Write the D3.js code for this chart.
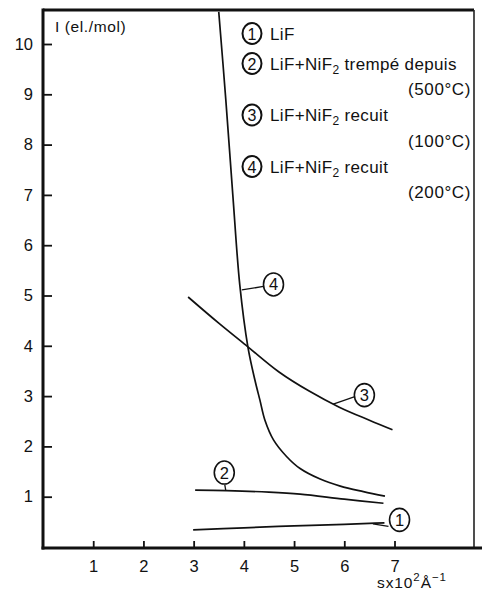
<!DOCTYPE html>
<html>
<head>
<meta charset="utf-8">
<script src="https://cdn.jsdelivr.net/npm/d3@7"></script>
<style>
  body { margin: 0; background: #fff; }
  svg { display: block; }
  text { font-family: "Liberation Sans", Arial, sans-serif; fill: #111; }
</style>
</head>
<body>
<svg id="chart" width="482" height="591"></svg>
<script>
// values: s (x10^2 A^-1) and I (el./mol)
const curve1 = [[2.99, 0.34], [4.0, 0.38], [5.0, 0.42], [6.0, 0.45], [6.5, 0.47], [6.8, 0.48]];
const curve2 = [[3.03, 1.13], [3.66, 1.12], [4.5, 1.09], [5.12, 1.05], [6.0, 0.95], [6.78, 0.87]];
const curve3 = [[2.89, 4.97], [3.5, 4.45], [4.08, 3.98], [4.7, 3.48], [5.3, 3.1], [5.9, 2.78], [6.5, 2.52], [6.96, 2.33]];
const curve4 = [[3.50, 10.64], [3.64, 8.9], [3.78, 7.0], [3.92, 5.2], [4.08, 3.98], [4.22, 3.32], [4.32, 2.92],
                [4.42, 2.52], [4.59, 2.13], [4.85, 1.80], [5.12, 1.56], [5.52, 1.35], [5.92, 1.21],
                [6.38, 1.10], [6.81, 1.01]];
const xTicks = [1, 2, 3, 4, 5, 6, 7];
const yTicks = [1, 2, 3, 4, 5, 6, 7, 8, 9, 10];
const legendNames = ["LiF", "LiF+NiF", "LiF+NiF", "LiF+NiF"];
const legendSuffix = ["", " trempé depuis", " recuit", " recuit"];
const legendTemps = ["", "(500°C)", "(100°C)", "(200°C)"];

const svg = d3.select("#chart");
const x = d3.scaleLinear().domain([0, 7]).range([43, 394.5]);
const y = d3.scaleLinear().domain([0, 10]).range([547, 44]);

// frame
svg.append("line").attr("x1", 43).attr("y1", 10).attr("x2", 474).attr("y2", 10)
  .style("stroke", "#111").style("stroke-width", "3px");
svg.append("line").attr("x1", 474).attr("y1", 10).attr("x2", 474).attr("y2", 548)
  .style("stroke", "#222").style("stroke-width", "1.6px");
svg.append("line").attr("x1", 43).attr("y1", 8.5).attr("x2", 43).attr("y2", 549.5)
  .style("stroke", "#111").style("stroke-width", "3px");
svg.append("line").attr("x1", 41.5).attr("y1", 548).attr("x2", 482).attr("y2", 548)
  .style("stroke", "#111").style("stroke-width", "3px");

// axes
const yAxis = svg.append("g").attr("transform", "translate(43,0)")
  .call(d3.axisLeft(y).tickValues(yTicks).tickFormat(d3.format("d")).tickSize(-9).tickPadding(10));
const xAxis = svg.append("g").attr("transform", "translate(0,548)")
  .call(d3.axisBottom(x).tickValues(xTicks).tickFormat(d3.format("d")).tickSize(-7).tickPadding(12));
[yAxis, xAxis].forEach(function (g) {
  g.select(".domain").remove();
  g.selectAll(".tick line").style("stroke", "#111").style("stroke-width", "1.8px");
  g.selectAll(".tick text").style("font-family", "Liberation Sans, Arial, sans-serif")
    .style("font-size", "16.5px").style("fill", "#111");
});

// axis titles
svg.append("text").attr("x", 55).attr("y", 32).style("font-size", "15.5px")
  .style("letter-spacing", "0.6px").text("I (el./mol)");
const xt = svg.append("text").attr("x", 377).attr("y", 587.5).style("font-size", "15.5px")
  .style("letter-spacing", "0.9px");
xt.append("tspan").text("sx10");
xt.append("tspan").attr("dy", -7).style("font-size", "11.5px").text("2");
xt.append("tspan").attr("dy", 7).text("Å");
xt.append("tspan").attr("dy", -7).style("font-size", "11.5px").text("−1");

// curves
const line = d3.line().x(function (d) { return x(d[0]); }).y(function (d) { return y(d[1]); })
  .curve(d3.curveCatmullRom.alpha(0.5));
[curve1, curve2, curve3, curve4].forEach(function (c) {
  svg.append("path").attr("d", line(c)).style("fill", "none")
    .style("stroke", "#111").style("stroke-width", "1.7px");
});

// curve labels: [label, circle centre, leader start, leader end]
const tags = [
  ["1", [7.10, 0.54], [6.57, 0.46], [6.88, 0.41]],
  ["2", [3.61, 1.48], [3.64, 1.12], [3.62, 1.24]],
  ["3", [6.40, 3.02], [5.78, 2.84], [6.21, 2.99]],
  ["4", [4.59, 5.22], [3.96, 5.11], [4.39, 5.18]]
];
tags.forEach(function (t) {
  svg.append("line").attr("x1", x(t[2][0])).attr("y1", y(t[2][1]))
    .attr("x2", x(t[3][0])).attr("y2", y(t[3][1]))
    .style("stroke", "#111").style("stroke-width", "1.3px");
  svg.append("ellipse").attr("cx", x(t[1][0])).attr("cy", y(t[1][1])).attr("rx", 10).attr("ry", 11.5)
    .style("fill", "#fff").style("stroke", "#111").style("stroke-width", "1.6px");
  svg.append("text").attr("x", x(t[1][0])).attr("y", y(t[1][1]) + 6)
    .attr("text-anchor", "middle").style("font-size", "16.5px").text(t[0]);
});

// legend
const legendY = [33.5, 63.5, 115, 166.5];
legendNames.forEach(function (name, i) {
  const cy = legendY[i];
  svg.append("ellipse").attr("cx", 252).attr("cy", cy).attr("rx", 9.5).attr("ry", 10.5)
    .style("fill", "none").style("stroke", "#111").style("stroke-width", "2px");
  svg.append("text").attr("x", 252).attr("y", cy + 6).attr("text-anchor", "middle")
    .style("font-size", "16px").text(i + 1);
  const t = svg.append("text").attr("x", 270).attr("y", cy + 6).style("font-size", "17px")
    .style("letter-spacing", "0.35px");
  t.append("tspan").text(name);
  if (i > 0) {
    t.append("tspan").attr("dy", 4).style("font-size", "12px").text("2");
    t.append("tspan").attr("dy", -4).text(legendSuffix[i]);
    svg.append("text").attr("x", 471).attr("y", cy + 31.5).attr("text-anchor", "end")
      .style("font-size", "17px").style("letter-spacing", "0.6px").text(legendTemps[i]);
  }
});
</script>
</body>
</html>
